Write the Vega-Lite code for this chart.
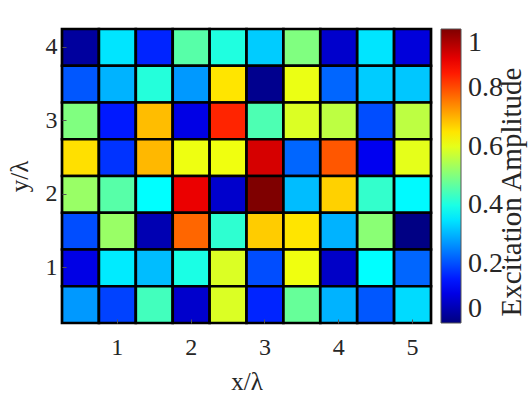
{
  "$schema": "https://vega.github.io/schema/vega-lite/v6.json",
  "width": 369,
  "height": 294,
  "autosize": "none",
  "padding": {"left": 62, "top": 29, "right": 101, "bottom": 76},
  "background": "white",
  "config": {
    "font": "Liberation Serif",
    "view": {"stroke": "#555555", "strokeWidth": 1.5},
    "axis": {"labelFont": "Liberation Serif", "titleFont": "Liberation Serif"},
    "legend": {"labelFont": "Liberation Serif", "titleFont": "Liberation Serif"}
  },
  "title": {
    "text": "Excitation Amplitude", "orient": "right", "angle": 270, "frame": "group",
    "anchor": "middle", "baseline": "top", "font": "Liberation Serif", "fontSize": 29,
    "fontWeight": "normal", "color": "#262626", "offset": -34, "dx": -16
  },
  "data": {
    "values": [
      {"x": 0.5, "y": 4, "v": 0.03}, {"x": 1, "y": 4, "v": 0.35}, {"x": 1.5, "y": 4, "v": 0.16}, {"x": 2, "y": 4, "v": 0.46}, {"x": 2.5, "y": 4, "v": 0.405},
      {"x": 3, "y": 4, "v": 0.325}, {"x": 3.5, "y": 4, "v": 0.5}, {"x": 4, "y": 4, "v": 0.075}, {"x": 4.5, "y": 4, "v": 0.35}, {"x": 5, "y": 4, "v": 0.09},
      {"x": 0.5, "y": 3.5, "v": 0.21}, {"x": 1, "y": 3.5, "v": 0.3}, {"x": 1.5, "y": 3.5, "v": 0.41}, {"x": 2, "y": 3.5, "v": 0.275}, {"x": 2.5, "y": 3.5, "v": 0.65},
      {"x": 3, "y": 3.5, "v": 0.015}, {"x": 3.5, "y": 3.5, "v": 0.605}, {"x": 4, "y": 3.5, "v": 0.225}, {"x": 4.5, "y": 3.5, "v": 0.325}, {"x": 5, "y": 3.5, "v": 0.32},
      {"x": 0.5, "y": 3, "v": 0.5}, {"x": 1, "y": 3, "v": 0.15}, {"x": 1.5, "y": 3, "v": 0.69}, {"x": 2, "y": 3, "v": 0.1}, {"x": 2.5, "y": 3, "v": 0.84},
      {"x": 3, "y": 3, "v": 0.45}, {"x": 3.5, "y": 3, "v": 0.59}, {"x": 4, "y": 3, "v": 0.56}, {"x": 4.5, "y": 3, "v": 0.2}, {"x": 5, "y": 3, "v": 0.56},
      {"x": 0.5, "y": 2.5, "v": 0.655}, {"x": 1, "y": 2.5, "v": 0.175}, {"x": 1.5, "y": 2.5, "v": 0.695}, {"x": 2, "y": 2.5, "v": 0.608}, {"x": 2.5, "y": 2.5, "v": 0.61},
      {"x": 3, "y": 2.5, "v": 0.915}, {"x": 3.5, "y": 2.5, "v": 0.225}, {"x": 4, "y": 2.5, "v": 0.79}, {"x": 4.5, "y": 2.5, "v": 0.11}, {"x": 5, "y": 2.5, "v": 0.6},
      {"x": 0.5, "y": 2, "v": 0.525}, {"x": 1, "y": 2, "v": 0.46}, {"x": 1.5, "y": 2, "v": 0.375}, {"x": 2, "y": 2, "v": 0.895}, {"x": 2.5, "y": 2, "v": 0.075},
      {"x": 3, "y": 2, "v": 1.0}, {"x": 3.5, "y": 2, "v": 0.31}, {"x": 4, "y": 2, "v": 0.67}, {"x": 4.5, "y": 2, "v": 0.425}, {"x": 5, "y": 2, "v": 0.37},
      {"x": 0.5, "y": 1.5, "v": 0.2}, {"x": 1, "y": 1.5, "v": 0.525}, {"x": 1.5, "y": 1.5, "v": 0.05}, {"x": 2, "y": 1.5, "v": 0.775}, {"x": 2.5, "y": 1.5, "v": 0.42},
      {"x": 3, "y": 1.5, "v": 0.675}, {"x": 3.5, "y": 1.5, "v": 0.65}, {"x": 4, "y": 1.5, "v": 0.3}, {"x": 4.5, "y": 1.5, "v": 0.51}, {"x": 5, "y": 1.5, "v": 0.005},
      {"x": 0.5, "y": 1, "v": 0.1}, {"x": 1, "y": 1, "v": 0.355}, {"x": 1.5, "y": 1, "v": 0.31}, {"x": 2, "y": 1, "v": 0.4}, {"x": 2.5, "y": 1, "v": 0.59},
      {"x": 3, "y": 1, "v": 0.2}, {"x": 3.5, "y": 1, "v": 0.61}, {"x": 4, "y": 1, "v": 0.07}, {"x": 4.5, "y": 1, "v": 0.375}, {"x": 5, "y": 1, "v": 0.225},
      {"x": 0.5, "y": 0.5, "v": 0.275}, {"x": 1, "y": 0.5, "v": 0.19}, {"x": 1.5, "y": 0.5, "v": 0.44}, {"x": 2, "y": 0.5, "v": 0.075}, {"x": 2.5, "y": 0.5, "v": 0.59},
      {"x": 3, "y": 0.5, "v": 0.16}, {"x": 3.5, "y": 0.5, "v": 0.475}, {"x": 4, "y": 0.5, "v": 0.3}, {"x": 4.5, "y": 0.5, "v": 0.21}, {"x": 5, "y": 0.5, "v": 0.34}
    ]
  },
  "mark": {"type": "rect", "stroke": "black", "strokeWidth": 2.7, "opacity": 1},
  "encoding": {
    "x": {
      "field": "x", "type": "ordinal",
      "scale": {"paddingInner": 0, "paddingOuter": 0},
      "axis": {
        "title": "x/λ", "values": [1, 2, 3, 4, 5], "labelAngle": 0,
        "labelFont": "Liberation Serif", "titleFont": "Liberation Serif",
        "labelFontSize": 24, "titleFontSize": 25, "titleFontWeight": "normal",
        "labelColor": "#262626", "titleColor": "#262626",
        "domain": false, "tickSize": -4, "tickColor": "#555555",
        "labelPadding": 16, "titlePadding": 10
      }
    },
    "y": {
      "field": "y", "type": "ordinal", "sort": "descending",
      "scale": {"paddingInner": 0, "paddingOuter": 0},
      "axis": {
        "title": "y/λ", "values": [1, 2, 3, 4],
        "labelFont": "Liberation Serif", "titleFont": "Liberation Serif",
        "labelFontSize": 24, "titleFontSize": 25, "titleFontWeight": "normal",
        "labelColor": "#262626", "titleColor": "#262626",
        "domain": false, "tickSize": -4, "tickColor": "#555555",
        "labelPadding": 9, "titlePadding": 13
      }
    },
    "color": {
      "field": "v", "type": "quantitative",
      "scale": {
        "domain": [0, 0.125, 0.375, 0.625, 0.875, 1],
        "range": ["#00007F", "#0000FF", "#00FFFF", "#FFFF00", "#FF0000", "#7F0000"],
        "interpolate": "rgb"
      },
      "legend": {
        "title": null,
        "labelFont": "Liberation Serif",
        "values": [0, 0.2, 0.4, 0.6, 0.8, 1], "format": "~g",
        "labelFontSize": 28, "labelColor": "#262626", "labelOffset": 7,
        "labelOverlap": false, "labelBaseline": "middle",
        "gradientLength": 294, "gradientThickness": 20,
        "gradientStrokeColor": "#555555", "gradientStrokeWidth": 1,
        "offset": 10, "padding": 0, "direction": "vertical",
        "encode": {"labels": {"dy": {"signal": "datum.perc >= 1 ? -12 : datum.perc <= 0 ? 13 : 0"}}}
      }
    }
  }
}
